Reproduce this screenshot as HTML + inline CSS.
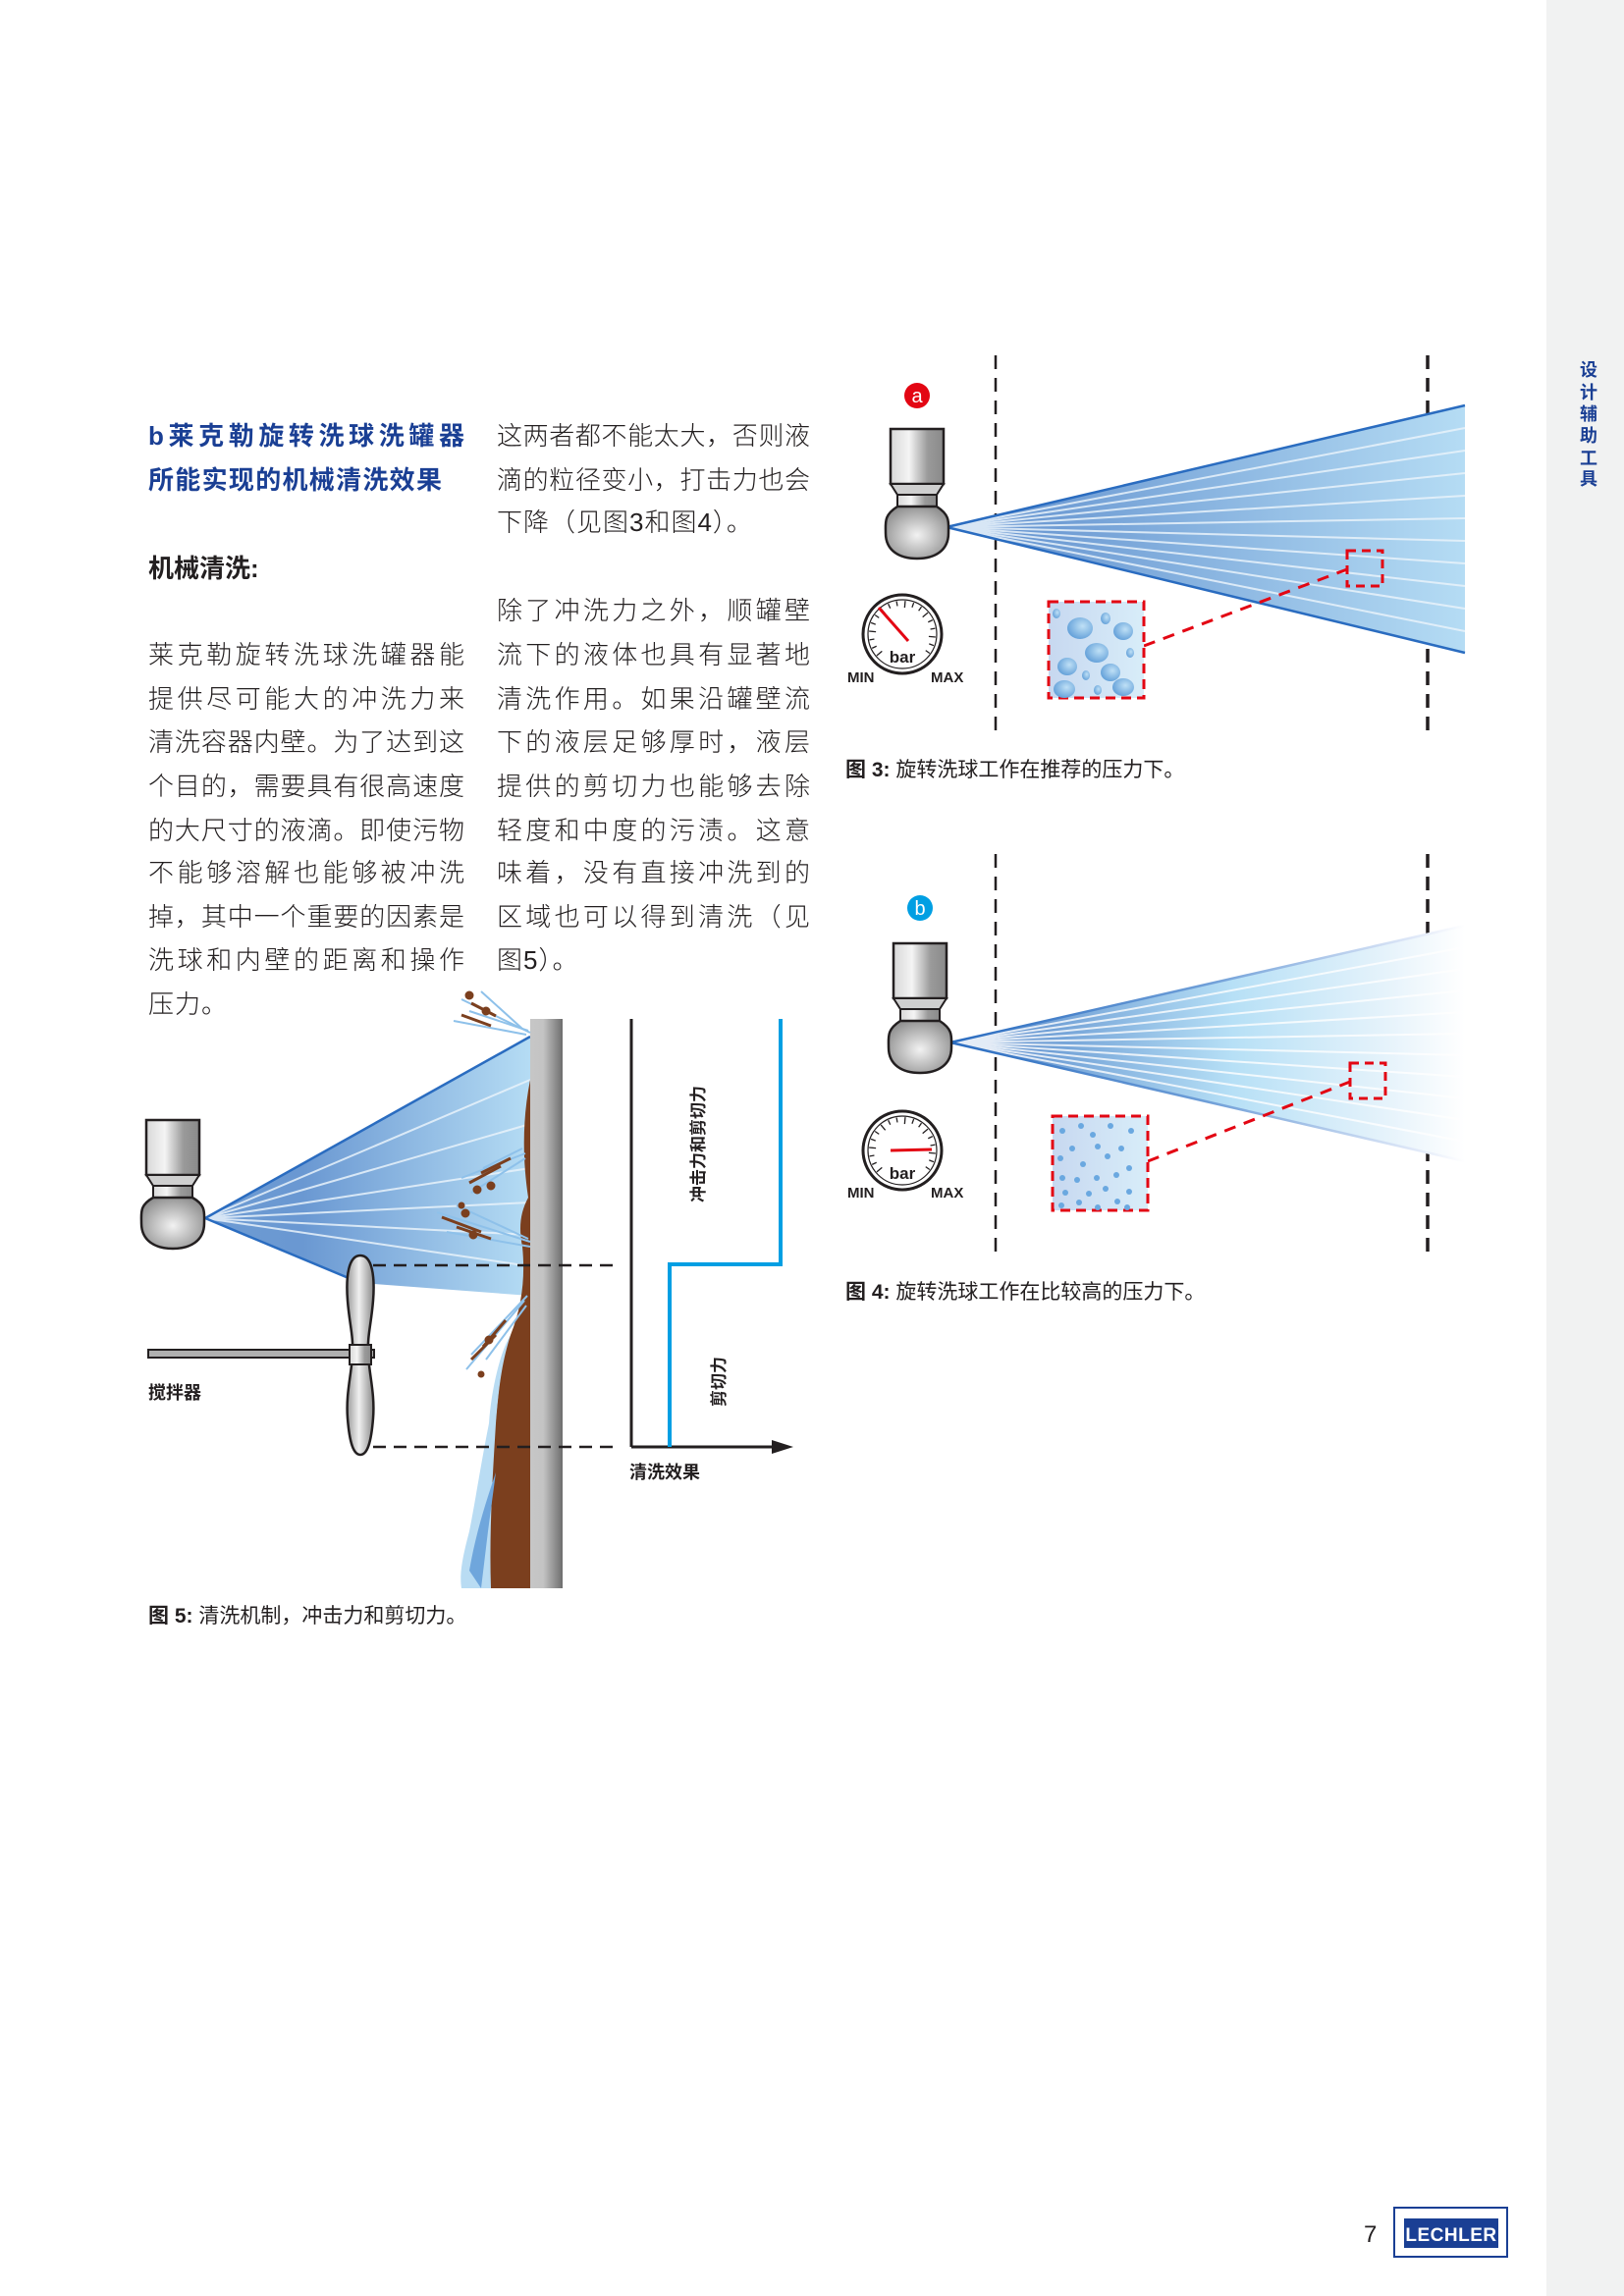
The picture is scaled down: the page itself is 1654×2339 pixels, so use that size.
<!DOCTYPE html>
<html><head><meta charset="utf-8">
<style>
html,body{margin:0;padding:0;background:#fff;}
body{width:1654px;height:2339px;position:relative;overflow:hidden;font-family:"Liberation Sans","Noto Sans CJK SC",sans-serif;color:#231f20;}
.side{position:absolute;left:1575px;top:0;width:79px;height:2339px;background:#f1f2f2;}
.sc{position:absolute;left:1608px;width:20px;text-align:center;font-size:18px;font-weight:bold;color:#1a3f94;line-height:20px;}
.l{position:absolute;height:44px;line-height:44px;font-size:26px;text-align:justify;text-align-last:justify;font-weight:300;white-space:nowrap;}
.c1{left:151px;width:322px;}
.c2{left:506px;width:319px;}
.n{text-align:left;text-align-last:left;letter-spacing:1px;}
.h{position:absolute;left:151px;height:44px;line-height:44px;font-size:26px;font-weight:bold;color:#1a3f94;text-align:justify;text-align-last:justify;white-space:nowrap;}
.cap{position:absolute;font-size:21px;line-height:26px;white-space:nowrap;}
.cap b{font-weight:bold;}
svg{position:absolute;left:0;top:0;}
</style></head><body>
<div class="side"></div>
<div class="sc" style="top:367px">设</div>
<div class="sc" style="top:390px">计</div>
<div class="sc" style="top:412px">辅</div>
<div class="sc" style="top:434px">助</div>
<div class="sc" style="top:457px">工</div>
<div class="sc" style="top:478px">具</div>

<div class="h" style="top:422px;width:322px">b莱克勒旋转洗球洗罐器</div>
<div class="h" style="top:467px;width:299px">所能实现的机械清洗效果</div>
<div class="h" style="top:557px;width:122px;color:#231f20;text-align-last:left;text-align:left">机械清洗:</div>

<div class="l c1" style="top:645px">莱克勒旋转洗球洗罐器能</div>
<div class="l c1" style="top:690px">提供尽可能大的冲洗力来</div>
<div class="l c1" style="top:734px">清洗容器内壁。为了达到这</div>
<div class="l c1" style="top:779px">个目的，需要具有很高速度</div>
<div class="l c1" style="top:824px">的大尺寸的液滴。即使污物</div>
<div class="l c1" style="top:867px">不能够溶解也能够被冲洗</div>
<div class="l c1" style="top:912px">掉，其中一个重要的因素是</div>
<div class="l c1" style="top:956px">洗球和内壁的距离和操作</div>
<div class="l c1 n" style="top:1001px">压力。</div>

<div class="l c2" style="top:422px">这两者都不能太大，否则液</div>
<div class="l c2" style="top:467px">滴的粒径变小，打击力也会</div>
<div class="l c2 n" style="top:510px">下降（见图3和图4）。</div>
<div class="l c2" style="top:600px">除了冲洗力之外，顺罐壁</div>
<div class="l c2" style="top:645px">流下的液体也具有显著地</div>
<div class="l c2" style="top:690px">清洗作用。如果沿罐壁流</div>
<div class="l c2" style="top:734px">下的液层足够厚时，液层</div>
<div class="l c2" style="top:779px">提供的剪切力也能够去除</div>
<div class="l c2" style="top:824px">轻度和中度的污渍。这意</div>
<div class="l c2" style="top:867px">味着，没有直接冲洗到的</div>
<div class="l c2" style="top:912px">区域也可以得到清洗（见</div>
<div class="l c2 n" style="top:956px">图5）。</div>

<div class="cap" style="left:861px;top:772px"><b>图 3:</b> 旋转洗球工作在推荐的压力下。</div>
<div class="cap" style="left:861px;top:1304px"><b>图 4:</b> 旋转洗球工作在比较高的压力下。</div>
<div class="cap" style="left:151px;top:1634px"><b>图 5:</b> 清洗机制，冲击力和剪切力。</div>

<svg width="1654" height="2339" viewBox="0 0 1654 2339" xmlns="http://www.w3.org/2000/svg" font-family="Liberation Sans, Noto Sans CJK SC, sans-serif">
<defs>
<linearGradient id="cyl" x1="0" x2="1" y1="0" y2="0">
<stop offset="0" stop-color="#d8d8d8"/><stop offset="0.35" stop-color="#f4f4f4"/><stop offset="0.7" stop-color="#9a9a9a"/><stop offset="1" stop-color="#8a8a8a"/></linearGradient>
<radialGradient id="ball" cx="0.5" cy="0.55" r="0.6">
<stop offset="0" stop-color="#f2f2f2"/><stop offset="1" stop-color="#8e8e8e"/></radialGradient>
<linearGradient id="f3" x1="0" x2="1" y1="0" y2="0">
<stop offset="0" stop-color="#7fa6d8"/><stop offset="0.15" stop-color="#6a98d2"/><stop offset="1" stop-color="#b5dcf4"/></linearGradient>
<linearGradient id="f4" x1="0" x2="1" y1="0" y2="0">
<stop offset="0" stop-color="#7fa6d8"/><stop offset="0.15" stop-color="#6898d2"/><stop offset="0.55" stop-color="#b7e0f6"/><stop offset="0.85" stop-color="#e6f3fb"/><stop offset="1" stop-color="#ffffff"/></linearGradient>
<linearGradient id="e4" gradientUnits="userSpaceOnUse" x1="968" y1="0" x2="1492" y2="0">
<stop offset="0" stop-color="#2a6cc0"/><stop offset="0.5" stop-color="#6f9fd8"/><stop offset="0.9" stop-color="#dfe8f8"/><stop offset="1" stop-color="#ffffff"/></linearGradient>
<linearGradient id="f5" x1="0" x2="1" y1="0" y2="0">
<stop offset="0" stop-color="#6d9bd3"/><stop offset="0.3" stop-color="#6a98d2"/><stop offset="1" stop-color="#b5dcf4"/></linearGradient>
<linearGradient id="box" x1="0" x2="1"><stop offset="0" stop-color="#c7d8f0"/><stop offset="1" stop-color="#d8edf9"/></linearGradient>
<linearGradient id="wall" x1="0" x2="1"><stop offset="0" stop-color="#c6c6c6"/><stop offset="0.4" stop-color="#c4c4c4"/><stop offset="1" stop-color="#6e6e6e"/></linearGradient>
<linearGradient id="prop" x1="0" x2="1"><stop offset="0" stop-color="#9a9a9a"/><stop offset="0.45" stop-color="#f0f0f0"/><stop offset="1" stop-color="#8a8a8a"/></linearGradient>
<radialGradient id="drop" cx="0.6" cy="0.4" r="0.7"><stop offset="0" stop-color="#bfe0f6"/><stop offset="1" stop-color="#5a9ad6"/></radialGradient>
</defs>

<!-- FIG 3 -->
<line x1="1014" y1="362" x2="1014" y2="746" stroke="#231f20" stroke-width="2.5" stroke-dasharray="14,9"/>
<line x1="1454" y1="362" x2="1454" y2="746" stroke="#231f20" stroke-width="3.5" stroke-dasharray="14,9"/>
<polygon points="964,537 1492,413 1492,665" fill="url(#f3)"/>
<g stroke="#e9f3fb" stroke-width="2" opacity="0.85">
<line x1="964" y1="537" x2="1492" y2="436"/><line x1="964" y1="537" x2="1492" y2="459"/>
<line x1="964" y1="537" x2="1492" y2="482"/><line x1="964" y1="537" x2="1492" y2="505"/>
<line x1="964" y1="537" x2="1492" y2="528"/><line x1="964" y1="537" x2="1492" y2="551"/>
<line x1="964" y1="537" x2="1492" y2="574"/><line x1="964" y1="537" x2="1492" y2="597"/>
<line x1="964" y1="537" x2="1492" y2="620"/><line x1="964" y1="537" x2="1492" y2="643"/>
</g>
<line x1="964" y1="537" x2="1492" y2="413" stroke="#2a6cc0" stroke-width="2.5"/>
<line x1="964" y1="537" x2="1492" y2="665" stroke="#2a6cc0" stroke-width="2.5"/>
<rect x="1372" y="561" width="36" height="36" fill="none" stroke="#e30613" stroke-width="3" stroke-dasharray="9,6"/>
<line x1="1165" y1="658" x2="1372" y2="580" stroke="#e30613" stroke-width="3" stroke-dasharray="12,9"/>
<rect x="1068" y="613" width="97" height="98" fill="url(#box)" stroke="#e30613" stroke-width="3" stroke-dasharray="10,6"/>
<g fill="url(#drop)">
<ellipse cx="1100" cy="640" rx="13" ry="11"/><ellipse cx="1126" cy="630" rx="5" ry="6"/><ellipse cx="1144" cy="643" rx="10" ry="9"/>
<ellipse cx="1076" cy="625" rx="4" ry="5"/><ellipse cx="1117" cy="665" rx="12" ry="10"/><ellipse cx="1151" cy="665" rx="4" ry="5"/>
<ellipse cx="1087" cy="679" rx="10" ry="9"/><ellipse cx="1131" cy="685" rx="10" ry="9"/><ellipse cx="1106" cy="688" rx="4" ry="5"/>
<ellipse cx="1084" cy="702" rx="11" ry="9"/><ellipse cx="1144" cy="700" rx="11" ry="9"/><ellipse cx="1118" cy="703" rx="4" ry="5"/>
</g>
<circle cx="934" cy="403" r="13" fill="#e30613"/>
<text x="934" y="410" font-size="20" fill="#fff" text-anchor="middle">a</text>
<g transform="translate(934,537)">
<rect x="-27" y="-100" width="54" height="56" fill="url(#cyl)" stroke="#231f20" stroke-width="2.5"/>
<polygon points="-27,-44 27,-44 20,-33 -20,-33" fill="#cfcfcf" stroke="#231f20" stroke-width="2"/>
<rect x="-20" y="-33" width="40" height="12" fill="url(#cyl)" stroke="#231f20" stroke-width="2"/>
<path d="M-20,-21 C-34,-12 -32,-5 -32,6 C-32,24 -18,32 0,32 C18,32 32,24 32,6 C32,-5 34,-12 20,-21 Z" fill="url(#ball)" stroke="#231f20" stroke-width="2.5"/>
</g>
<g transform="translate(919,646)">
<circle r="40" fill="#fff" stroke="#231f20" stroke-width="3"/>
<circle r="35" fill="#fff" stroke="#231f20" stroke-width="1.2"/>
<g stroke="#231f20" stroke-width="1.3">
<line x1="0" y1="-34" x2="0" y2="-27" transform="rotate(-130)"/><line x1="0" y1="-34" x2="0" y2="-29" transform="rotate(-115)"/>
<line x1="0" y1="-34" x2="0" y2="-29" transform="rotate(-100)"/><line x1="0" y1="-34" x2="0" y2="-27" transform="rotate(-85)"/>
<line x1="0" y1="-34" x2="0" y2="-29" transform="rotate(-70)"/><line x1="0" y1="-34" x2="0" y2="-29" transform="rotate(-55)"/>
<line x1="0" y1="-34" x2="0" y2="-27" transform="rotate(-40)"/><line x1="0" y1="-34" x2="0" y2="-29" transform="rotate(-25)"/>
<line x1="0" y1="-34" x2="0" y2="-29" transform="rotate(-10)"/><line x1="0" y1="-34" x2="0" y2="-27" transform="rotate(5)"/>
<line x1="0" y1="-34" x2="0" y2="-29" transform="rotate(20)"/><line x1="0" y1="-34" x2="0" y2="-29" transform="rotate(35)"/>
<line x1="0" y1="-34" x2="0" y2="-27" transform="rotate(50)"/><line x1="0" y1="-34" x2="0" y2="-29" transform="rotate(65)"/>
<line x1="0" y1="-34" x2="0" y2="-29" transform="rotate(80)"/><line x1="0" y1="-34" x2="0" y2="-27" transform="rotate(95)"/>
<line x1="0" y1="-34" x2="0" y2="-29" transform="rotate(110)"/><line x1="0" y1="-34" x2="0" y2="-29" transform="rotate(125)"/>
</g>
<line x1="-24" y1="-27" x2="6" y2="7" stroke="#e30613" stroke-width="3"/>
<text x="0" y="29" font-size="17" font-weight="bold" text-anchor="middle" fill="#231f20">bar</text>
</g>
<text x="863" y="695" font-size="15" font-weight="bold" fill="#231f20">MIN</text>
<text x="948" y="695" font-size="15" font-weight="bold" fill="#231f20">MAX</text>

<!-- FIG 4 -->
<line x1="1014" y1="870" x2="1014" y2="1278" stroke="#231f20" stroke-width="2.5" stroke-dasharray="14,9"/>
<line x1="1454" y1="870" x2="1454" y2="1278" stroke="#231f20" stroke-width="3.5" stroke-dasharray="14,9"/>
<polygon points="968,1062 1492,943 1492,1183" fill="url(#f4)"/>
<g stroke="#ffffff" stroke-width="2" opacity="0.8">
<line x1="968" y1="1062" x2="1492" y2="965"/><line x1="968" y1="1062" x2="1492" y2="987"/>
<line x1="968" y1="1062" x2="1492" y2="1009"/><line x1="968" y1="1062" x2="1492" y2="1031"/>
<line x1="968" y1="1062" x2="1492" y2="1053"/><line x1="968" y1="1062" x2="1492" y2="1075"/>
<line x1="968" y1="1062" x2="1492" y2="1097"/><line x1="968" y1="1062" x2="1492" y2="1119"/>
<line x1="968" y1="1062" x2="1492" y2="1141"/><line x1="968" y1="1062" x2="1492" y2="1163"/>
</g>
<line x1="968" y1="1062" x2="1492" y2="943" stroke="url(#e4)" stroke-width="2.5"/>
<line x1="968" y1="1062" x2="1492" y2="1183" stroke="url(#e4)" stroke-width="2.5"/>
<rect x="1375" y="1083" width="36" height="36" fill="none" stroke="#e30613" stroke-width="3" stroke-dasharray="9,6"/>
<line x1="1169" y1="1183" x2="1375" y2="1102" stroke="#e30613" stroke-width="3" stroke-dasharray="12,9"/>
<rect x="1072" y="1137" width="97" height="96" fill="url(#box)" stroke="#e30613" stroke-width="3" stroke-dasharray="10,6"/>
<g fill="#6aa8e0">
<circle cx="1082" cy="1152" r="3"/><circle cx="1101" cy="1147" r="3"/><circle cx="1113" cy="1156" r="3"/><circle cx="1131" cy="1147" r="3"/><circle cx="1152" cy="1152" r="3"/>
<circle cx="1092" cy="1170" r="3"/><circle cx="1118" cy="1168" r="3"/><circle cx="1142" cy="1170" r="3"/><circle cx="1080" cy="1180" r="3"/><circle cx="1128" cy="1178" r="3"/>
<circle cx="1103" cy="1186" r="3"/><circle cx="1150" cy="1190" r="3"/><circle cx="1082" cy="1200" r="3"/><circle cx="1097" cy="1202" r="3"/><circle cx="1117" cy="1200" r="3"/>
<circle cx="1137" cy="1197" r="3"/><circle cx="1085" cy="1215" r="3"/><circle cx="1109" cy="1216" r="3"/><circle cx="1126" cy="1211" r="3"/><circle cx="1150" cy="1214" r="3"/>
<circle cx="1081" cy="1228" r="3"/><circle cx="1099" cy="1225" r="3"/><circle cx="1118" cy="1230" r="3"/><circle cx="1138" cy="1224" r="3"/><circle cx="1148" cy="1230" r="3"/>
</g>
<circle cx="937" cy="925" r="13" fill="#009fe3"/>
<text x="937" y="932" font-size="20" fill="#fff" text-anchor="middle">b</text>
<g transform="translate(937,1061)">
<rect x="-27" y="-100" width="54" height="56" fill="url(#cyl)" stroke="#231f20" stroke-width="2.5"/>
<polygon points="-27,-44 27,-44 20,-33 -20,-33" fill="#cfcfcf" stroke="#231f20" stroke-width="2"/>
<rect x="-20" y="-33" width="40" height="12" fill="url(#cyl)" stroke="#231f20" stroke-width="2"/>
<path d="M-20,-21 C-34,-12 -32,-5 -32,6 C-32,24 -18,32 0,32 C18,32 32,24 32,6 C32,-5 34,-12 20,-21 Z" fill="url(#ball)" stroke="#231f20" stroke-width="2.5"/>
</g>
<g transform="translate(919,1172)">
<circle r="40" fill="#fff" stroke="#231f20" stroke-width="3"/>
<circle r="35" fill="#fff" stroke="#231f20" stroke-width="1.2"/>
<g stroke="#231f20" stroke-width="1.3">
<line x1="0" y1="-34" x2="0" y2="-27" transform="rotate(-130)"/><line x1="0" y1="-34" x2="0" y2="-29" transform="rotate(-115)"/>
<line x1="0" y1="-34" x2="0" y2="-29" transform="rotate(-100)"/><line x1="0" y1="-34" x2="0" y2="-27" transform="rotate(-85)"/>
<line x1="0" y1="-34" x2="0" y2="-29" transform="rotate(-70)"/><line x1="0" y1="-34" x2="0" y2="-29" transform="rotate(-55)"/>
<line x1="0" y1="-34" x2="0" y2="-27" transform="rotate(-40)"/><line x1="0" y1="-34" x2="0" y2="-29" transform="rotate(-25)"/>
<line x1="0" y1="-34" x2="0" y2="-29" transform="rotate(-10)"/><line x1="0" y1="-34" x2="0" y2="-27" transform="rotate(5)"/>
<line x1="0" y1="-34" x2="0" y2="-29" transform="rotate(20)"/><line x1="0" y1="-34" x2="0" y2="-29" transform="rotate(35)"/>
<line x1="0" y1="-34" x2="0" y2="-27" transform="rotate(50)"/><line x1="0" y1="-34" x2="0" y2="-29" transform="rotate(65)"/>
<line x1="0" y1="-34" x2="0" y2="-29" transform="rotate(80)"/><line x1="0" y1="-34" x2="0" y2="-27" transform="rotate(95)"/>
<line x1="0" y1="-34" x2="0" y2="-29" transform="rotate(110)"/><line x1="0" y1="-34" x2="0" y2="-29" transform="rotate(125)"/>
</g>
<line x1="-12" y1="0" x2="30" y2="-1" stroke="#e30613" stroke-width="3"/>
<text x="0" y="29" font-size="17" font-weight="bold" text-anchor="middle" fill="#231f20">bar</text>
</g>
<text x="863" y="1220" font-size="15" font-weight="bold" fill="#231f20">MIN</text>
<text x="948" y="1220" font-size="15" font-weight="bold" fill="#231f20">MAX</text>

<!-- FIG 5 -->
<polygon points="209,1241 540,1056 540,1320 367,1307" fill="url(#f5)"/>
<g stroke="#e9f3fb" stroke-width="2" opacity="0.85">
<line x1="209" y1="1241" x2="540" y2="1100"/><line x1="209" y1="1241" x2="540" y2="1145"/>
<line x1="209" y1="1241" x2="540" y2="1190"/><line x1="209" y1="1241" x2="540" y2="1225"/>
<line x1="209" y1="1241" x2="540" y2="1258"/><line x1="209" y1="1241" x2="540" y2="1290"/>
</g>
<line x1="209" y1="1241" x2="540" y2="1056" stroke="#2a6cc0" stroke-width="2.5"/>
<line x1="209" y1="1241" x2="367" y2="1307" stroke="#2a6cc0" stroke-width="2.5"/>
<path d="M540,1100 C532,1140 532,1180 538,1220 C530,1235 528,1250 532,1270 C535,1300 532,1330 520,1360 C508,1390 506,1440 502,1480 C500,1530 496,1580 498,1618 L540,1618 Z" fill="#7b3f1e"/>
<path d="M520,1360 C508,1380 500,1420 498,1450 C490,1490 484,1530 478,1560 C470,1590 468,1605 470,1618 L500,1618 C498,1560 502,1500 505,1450 C508,1410 512,1385 520,1360 Z" fill="#b9dcf3"/>
<path d="M505,1500 C495,1530 485,1560 478,1600 L490,1618 L497,1560 Z" fill="#6fa6dc"/>
<rect x="540" y="1038" width="33" height="580" fill="url(#wall)"/>
<g stroke="#8ec1ea" stroke-width="2">
<line x1="540" y1="1052" x2="470" y2="1018"/><line x1="538" y1="1050" x2="478" y2="1030"/><line x1="536" y1="1054" x2="462" y2="1040"/><line x1="532" y1="1048" x2="490" y2="1010"/>
<line x1="535" y1="1175" x2="470" y2="1200"/><line x1="535" y1="1180" x2="480" y2="1215"/><line x1="532" y1="1170" x2="492" y2="1190"/>
<line x1="540" y1="1265" x2="445" y2="1235"/><line x1="540" y1="1270" x2="455" y2="1255"/><line x1="538" y1="1262" x2="465" y2="1228"/>
<line x1="537" y1="1320" x2="480" y2="1380"/><line x1="534" y1="1325" x2="475" y2="1395"/><line x1="536" y1="1330" x2="495" y2="1385"/>
</g>
<g stroke="#7b3f1e" stroke-width="3" fill="#7b3f1e">
<line x1="480" y1="1022" x2="505" y2="1035"/><line x1="470" y1="1034" x2="500" y2="1045"/><circle cx="478" cy="1014" r="3"/><circle cx="495" cy="1030" r="3"/>
<line x1="478" y1="1205" x2="510" y2="1188"/><line x1="490" y1="1195" x2="520" y2="1180"/><circle cx="500" cy="1208" r="3"/><circle cx="486" cy="1212" r="3"/>
<line x1="450" y1="1240" x2="490" y2="1255"/><line x1="465" y1="1250" x2="500" y2="1262"/><circle cx="474" cy="1236" r="3"/><circle cx="482" cy="1258" r="3"/><circle cx="470" cy="1228" r="2"/>
<line x1="480" y1="1385" x2="505" y2="1360"/><line x1="492" y1="1372" x2="515" y2="1345"/><circle cx="498" cy="1365" r="3"/><circle cx="490" cy="1400" r="2"/>
</g>
<line x1="380" y1="1289" x2="626" y2="1289" stroke="#231f20" stroke-width="2.5" stroke-dasharray="13,8"/>
<line x1="380" y1="1474" x2="626" y2="1474" stroke="#231f20" stroke-width="2.5" stroke-dasharray="13,8"/>
<rect x="151" y="1375" width="230" height="8" fill="#b0b0b0" stroke="#231f20" stroke-width="2"/>
<path d="M367,1279 C355,1279 352,1300 354,1325 C356,1350 360,1360 359,1380 C358,1400 352,1420 354,1445 C356,1470 360,1482 367,1482 C374,1482 378,1470 380,1445 C382,1420 376,1400 375,1380 C374,1360 378,1350 380,1325 C382,1300 379,1279 367,1279 Z" fill="url(#prop)" stroke="#231f20" stroke-width="2.5"/>
<rect x="356" y="1370" width="22" height="20" fill="url(#cyl)" stroke="#231f20" stroke-width="2"/>
<g transform="translate(176,1238)">
<rect x="-27" y="-97" width="54" height="56" fill="url(#cyl)" stroke="#231f20" stroke-width="2.5"/>
<polygon points="-27,-41 27,-41 20,-30 -20,-30" fill="#cfcfcf" stroke="#231f20" stroke-width="2"/>
<rect x="-20" y="-30" width="40" height="12" fill="url(#cyl)" stroke="#231f20" stroke-width="2"/>
<path d="M-20,-18 C-34,-10 -32,-3 -32,8 C-32,26 -18,34 0,34 C18,34 32,26 32,8 C32,-3 34,-10 20,-18 Z" fill="url(#ball)" stroke="#231f20" stroke-width="2.5"/>
</g>
<text x="151" y="1425" font-size="18" font-weight="bold" fill="#231f20">搅拌器</text>
<line x1="643" y1="1038" x2="643" y2="1474" stroke="#231f20" stroke-width="3"/>
<line x1="643" y1="1474" x2="790" y2="1474" stroke="#231f20" stroke-width="3"/>
<polygon points="786,1467 808,1474 786,1481" fill="#231f20"/>
<polyline points="795,1038 795,1288 682,1288 682,1474" fill="none" stroke="#009fe3" stroke-width="4"/>
<text transform="translate(717,1225) rotate(-90)" font-size="17" font-weight="bold" fill="#231f20">冲击力和剪切力</text>
<text transform="translate(738,1433) rotate(-90)" font-size="17" font-weight="bold" fill="#231f20">剪切力</text>
<text x="641" y="1506" font-size="18" font-weight="bold" fill="#231f20">清洗效果</text>

<text x="1389" y="2284" font-size="24" fill="#231f20">7</text>
<rect x="1420" y="2249" width="115" height="50" fill="#fff" stroke="#1a3f94" stroke-width="2"/>
<rect x="1430" y="2260" width="96" height="30" fill="#1a3f94"/>
<text x="1478" y="2283" font-size="19" font-weight="bold" fill="#fff" text-anchor="middle" letter-spacing="0.5">LECHLER</text>
</svg>
</body></html>
